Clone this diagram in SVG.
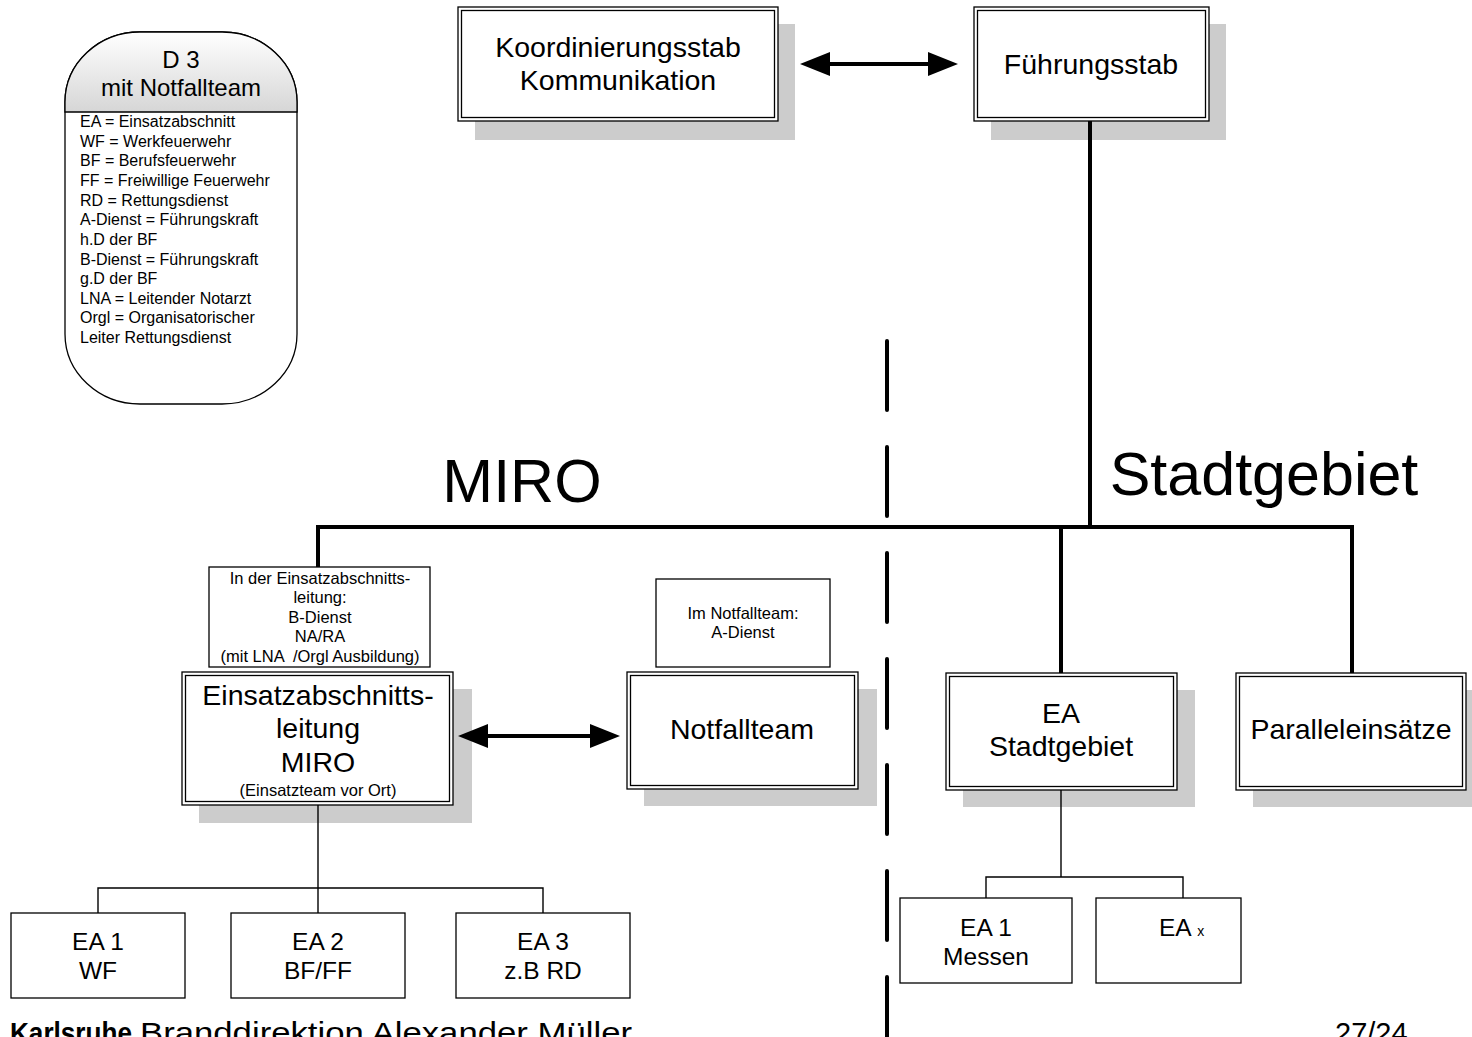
<svg xmlns="http://www.w3.org/2000/svg" width="1472" height="1037" viewBox="0 0 1472 1037">
<style>
  text { font-family: "Liberation Sans", Arial, sans-serif; fill: #000; }
  .shadow { fill: #cccccc; }
  .outer { fill: #fff; stroke: #000; stroke-width: 1.3; }
  .inner { fill: none; stroke: #000; stroke-width: 1.3; }
  .plain { fill: #fff; stroke: #000; stroke-width: 1.3; }
  .thick { stroke: #000; stroke-width: 4; fill: none; }
  .thin { stroke: #000; stroke-width: 1.4; fill: none; }
  .dash { stroke: #000; stroke-width: 4; stroke-linecap: round; stroke-dasharray: 69 37; fill: none; }
  .big { font-size: 28.5px; text-anchor: middle; }
  .mid { font-size: 24.5px; text-anchor: middle; }
  .small { font-size: 16.5px; text-anchor: middle; }
  .legend { font-size: 16px; }
</style>
<defs>
  <linearGradient id="hdr" x1="0" y1="0" x2="0" y2="1">
    <stop offset="0" stop-color="#ffffff"/>
    <stop offset="1" stop-color="#d6d6d6"/>
  </linearGradient>
  <marker id="ah" markerUnits="userSpaceOnUse" viewBox="0 0 30 24" markerWidth="30" markerHeight="24" refX="20" refY="12" orient="auto-start-reverse">
    <path d="M0,0 L30,12 L0,24 Z" fill="#000"/>
  </marker>
</defs>

<rect width="1472" height="1037" fill="#fff"/>

<!-- dashed separator -->
<line class="dash" x1="887" y1="341" x2="887" y2="1060"/>

<!-- legend -->
<g id="legend">
  <path d="M140,32 H222 A75,70 0 0 1 297,102 V334 A75,70 0 0 1 222,404 H140 A75,70 0 0 1 65,334 V102 A75,70 0 0 1 140,32 Z" fill="#fff" stroke="#000" stroke-width="1.3"/>
  <path d="M65,112 V102 A75,70 0 0 1 140,32 H222 A75,70 0 0 1 297,102 V112 Z" fill="url(#hdr)" stroke="#000" stroke-width="1.3"/>
  <text x="181" y="68" style="font-size:24px;text-anchor:middle">D 3</text>
  <text x="181" y="96" style="font-size:24px;text-anchor:middle">mit Notfallteam</text>
  <text class="legend" x="80" y="127">EA = Einsatzabschnitt</text>
  <text class="legend" x="80" y="147">WF = Werkfeuerwehr</text>
  <text class="legend" x="80" y="166">BF = Berufsfeuerwehr</text>
  <text class="legend" x="80" y="186">FF = Freiwillige Feuerwehr</text>
  <text class="legend" x="80" y="206">RD = Rettungsdienst</text>
  <text class="legend" x="80" y="225">A-Dienst = Führungskraft</text>
  <text class="legend" x="80" y="245">h.D der BF</text>
  <text class="legend" x="80" y="265">B-Dienst = Führungskraft</text>
  <text class="legend" x="80" y="284">g.D der BF</text>
  <text class="legend" x="80" y="304">LNA = Leitender Notarzt</text>
  <text class="legend" x="80" y="323">Orgl = Organisatorischer</text>
  <text class="legend" x="80" y="343">Leiter Rettungsdienst</text>
</g>

<g id="koordinierungsstab">
  <rect class="shadow" x="475" y="24" width="320" height="116"/>
  <rect class="outer" x="458" y="7" width="320" height="114"/>
  <rect class="inner" x="461.5" y="10.5" width="313" height="107"/>
  <text class="big" x="618" y="57">Koordinierungsstab</text>
  <text class="big" x="618" y="90">Kommunikation</text>
</g>

<g id="fuehrungsstab">
  <rect class="shadow" x="991" y="24" width="235" height="116"/>
  <rect class="outer" x="974" y="7" width="235" height="114"/>
  <rect class="inner" x="977.5" y="10.5" width="228" height="107"/>
  <text class="big" x="1091" y="74">Führungsstab</text>
</g>

<text x="522" y="502" style="font-size:61px;text-anchor:middle">MIRO</text>
<text x="1264" y="495" style="font-size:61px;text-anchor:middle">Stadtgebiet</text>

<g id="info-eal">
  <rect class="plain" x="209" y="567" width="221" height="100"/>
  <text class="small" x="320" y="584">In der Einsatzabschnitts-</text>
  <text class="small" x="320" y="603">leitung:</text>
  <text class="small" x="320" y="623">B-Dienst</text>
  <text class="small" x="320" y="642">NA/RA</text>
  <text class="small" x="320" y="662" xml:space="preserve">(mit LNA  /Orgl Ausbildung)</text>
</g>

<g id="eal-miro">
  <rect class="shadow" x="199" y="689" width="273" height="134"/>
  <rect class="outer" x="182" y="672" width="271" height="133"/>
  <rect class="inner" x="185.5" y="675.5" width="264" height="126"/>
  <text class="big" x="318" y="705">Einsatzabschnitts-</text>
  <text class="big" x="318" y="738">leitung</text>
  <text class="big" x="318" y="772">MIRO</text>
  <text class="small" x="318" y="796">(Einsatzteam vor Ort)</text>
</g>

<g id="info-notfallteam">
  <rect class="plain" x="656" y="579" width="174" height="88"/>
  <text class="small" x="743" y="619">Im Notfallteam:</text>
  <text class="small" x="743" y="638">A-Dienst</text>
</g>

<g id="notfallteam">
  <rect class="shadow" x="644" y="689" width="233" height="117"/>
  <rect class="outer" x="627" y="672" width="231" height="117"/>
  <rect class="inner" x="630.5" y="675.5" width="224" height="110"/>
  <text class="big" x="742" y="739">Notfallteam</text>
</g>

<g id="ea-stadtgebiet">
  <rect class="shadow" x="963" y="690" width="232" height="117"/>
  <rect class="outer" x="946" y="673" width="231" height="117"/>
  <rect class="inner" x="949.5" y="676.5" width="224" height="110"/>
  <text class="big" x="1061" y="723">EA</text>
  <text class="big" x="1061" y="756">Stadtgebiet</text>
</g>

<g id="paralleleinsaetze">
  <rect class="shadow" x="1253" y="690" width="232" height="117"/>
  <rect class="outer" x="1236" y="673" width="230" height="117"/>
  <rect class="inner" x="1239.5" y="676.5" width="223" height="110"/>
  <text class="big" x="1351" y="739">Paralleleinsätze</text>
</g>

<g id="ea1-wf">
  <rect class="plain" x="11" y="913" width="174" height="85"/>
  <text class="mid" x="98" y="950">EA 1</text>
  <text class="mid" x="98" y="979">WF</text>
</g>
<g id="ea2-bfff">
  <rect class="plain" x="231" y="913" width="174" height="85"/>
  <text class="mid" x="318" y="950">EA 2</text>
  <text class="mid" x="318" y="979">BF/FF</text>
</g>
<g id="ea3-rd">
  <rect class="plain" x="456" y="913" width="174" height="85"/>
  <text class="mid" x="543" y="950">EA 3</text>
  <text class="mid" x="543" y="979">z.B RD</text>
</g>

<g id="ea1-messen">
  <rect class="plain" x="900" y="898" width="172" height="85"/>
  <text class="mid" x="986" y="936">EA 1</text>
  <text class="mid" x="986" y="965">Messen</text>
</g>
<g id="eax">
  <rect class="plain" x="1096" y="898" width="145" height="85"/>
  <text x="1159" y="936" style="font-size:24.5px">EA <tspan style="font-size:14px">x</tspan></text>
</g>

<!-- connectors -->
<g id="connectors">
  <line class="thick" x1="810" y1="64" x2="948" y2="64" marker-start="url(#ah)" marker-end="url(#ah)"/>
  <line class="thick" x1="1090" y1="121" x2="1090" y2="527"/>
  <line class="thick" x1="316" y1="527" x2="1354" y2="527"/>
  <line class="thick" x1="318" y1="527" x2="318" y2="567"/>
  <line class="thick" x1="1061" y1="527" x2="1061" y2="673"/>
  <line class="thick" x1="1352" y1="527" x2="1352" y2="673"/>
  <line class="thick" x1="468" y1="736" x2="610" y2="736" marker-start="url(#ah)" marker-end="url(#ah)"/>
  <line class="thin" x1="318" y1="805" x2="318" y2="913"/>
  <polyline class="thin" points="98,913 98,888 543,888 543,913"/>
  <line class="thin" x1="1061" y1="790" x2="1061" y2="877"/>
  <polyline class="thin" points="986,898 986,877 1183,877 1183,898"/>
</g>

<text x="10" y="1043" style="font-size:30px;font-weight:bold" textLength="122" lengthAdjust="spacingAndGlyphs">Karlsruhe</text>
<text x="140" y="1043" style="font-size:30px" textLength="492" lengthAdjust="spacingAndGlyphs">Branddirektion Alexander Müller</text>
<text x="1335" y="1043" style="font-size:29px">27/24</text>
</svg>
